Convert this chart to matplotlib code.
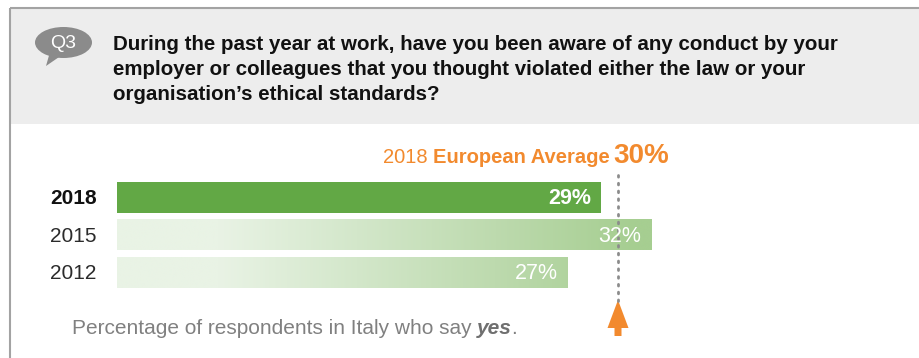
import matplotlib
matplotlib.use("Agg")
import matplotlib.pyplot as plt
from matplotlib.patches import Rectangle, Ellipse, Polygon
from matplotlib.colors import LinearSegmentedColormap
import numpy as np

# survey results, Italy
years = ["2018", "2015", "2012"]
values = [29, 32, 27]
value_labels = ["29%", "32%", "27%"]
euro_avg = 30
euro_avg_label = "30%"

question_lines = [
    "During the past year at work, have you been aware of any conduct by your",
    "employer or colleagues that you thought violated either the law or your",
    "organisation\u2019s ethical standards?",
]

W, H = 919, 358
PX_PER_PCT = 16.7      # bar length in pixels per percentage point
BAR_X0 = 117           # left edge of the bars
ROW_PITCH = 37.5       # vertical distance between bars
ROW0_Y = 197.5         # centre of the first bar
BAR_H = 31 / ROW_PITCH

GREEN = "#62a845"
ORANGE = "#f28a2e"
GREY_TXT = "#808080"
SANS = ["Liberation Sans", "DejaVu Sans"]

fig = plt.figure(figsize=(W / 100, H / 100), dpi=100)
fig.patch.set_facecolor("white")

# pixel-space overlay for the frame and the text
deco = fig.add_axes([0, 0, 1, 1])
deco.set_xlim(0, W)
deco.set_ylim(H, 0)
deco.axis("off")

# header panel + frame
deco.add_patch(Rectangle((10, 8), W - 10, 116, facecolor="#ededed", edgecolor="none"))
deco.plot([10, W], [8, 8], color="#a3a3a3", lw=1.5, solid_capstyle="butt")
deco.plot([10, 10], [8, H], color="#a3a3a3", lw=1.5, solid_capstyle="butt")

# Q3 speech bubble
deco.add_patch(Polygon([[50, 52], [62, 55], [46, 66]], closed=True, facecolor="#8b8b8b", edgecolor="none"))
deco.add_patch(Ellipse((63.5, 42.5), 57, 31, facecolor="#8b8b8b", edgecolor="none"))
deco.text(63, 43, "Q3", color="white", fontsize=14, family=SANS, ha="center", va="center")

for k, line in enumerate(question_lines):
    deco.text(113, 50 + 25 * k, line, fontsize=14.8, fontweight="bold", family=SANS,
              color="#111111", va="baseline", ha="left")

# bar chart axes, x in percent, y in row units
ax = fig.add_axes([BAR_X0 / W, 0, (W - BAR_X0) / W, 1])
ax.set_xlim(0, (W - BAR_X0) / PX_PER_PCT)
ax.set_ylim((H - ROW0_Y) / ROW_PITCH, -ROW0_Y / ROW_PITCH)
ax.axis("off")
ax.patch.set_alpha(0)

fade = LinearSegmentedColormap.from_list("fade", ["#e9f3e5", "#d3e7ca", "#bddaae", "#a6ce91"])
grad_x = np.linspace(0, 1, 400)
for i, (yr, v, lab) in enumerate(zip(years, values, value_labels)):
    if i == 0:
        ax.barh(i, v, height=BAR_H, color=GREEN, left=0)
        ax.text(v - 10 / PX_PER_PCT, i + 0.03, lab, color="white", fontsize=15.5, fontweight="bold",
                family=SANS, ha="right", va="center")
    else:
        bar = ax.barh(i, v, height=BAR_H, color="none", left=0)[0]
        xs = grad_x * v
        t = np.clip((xs - 6) / 25, 0, 1)
        img = ax.imshow(t[np.newaxis, :], cmap=fade, vmin=0, vmax=1, aspect="auto",
                        extent=(0, v, i + BAR_H / 2, i - BAR_H / 2), interpolation="bicubic")
        img.set_clip_path(bar)
        ax.text(v - 10 / PX_PER_PCT, i + 0.03, lab, color="white", fontsize=15.5,
                family=SANS, ha="right", va="center")

# year labels
for i, yr in enumerate(years):
    deco.text(50, ROW0_Y + i * ROW_PITCH + 1, yr, fontsize=15, family=SANS, va="center", ha="left",
              color="#111111" if i == 0 else "#2b2b2b", fontweight="bold" if i == 0 else "normal")

# European average marker: dotted guide + upward arrow
y_top = (175 - ROW0_Y) / ROW_PITCH
y_tip = (301 - ROW0_Y) / ROW_PITCH
ax.plot([euro_avg, euro_avg], [y_top, y_tip], color="#8c8c8c", lw=2, ls=(0, (0.6, 2.2)),
        dash_capstyle="round")

ax_px = BAR_X0 + euro_avg * PX_PER_PCT
deco.add_patch(Polygon([[ax_px, 300], [ax_px + 10.5, 328], [ax_px + 3.5, 328], [ax_px + 3.5, 336],
                        [ax_px - 3.5, 336], [ax_px - 3.5, 328], [ax_px - 10.5, 328]],
                       closed=True, facecolor=ORANGE, edgecolor="none"))

# headline for the average, built from pieces of different weights
fig.canvas.draw()
r = fig.canvas.get_renderer()
inv = deco.transData.inverted()


def put(x, y, s, **kw):
    t = deco.text(x, y, s, va="baseline", ha="left", **kw)
    bb = t.get_window_extent(renderer=r)
    return inv.transform((bb.x1, 0))[0]


x = put(383, 163, "2018 ", fontsize=14.5, family=SANS, color=ORANGE)
x = put(x, 163, "European Average ", fontsize=14.5, family=SANS, color=ORANGE, fontweight="bold")
put(x - 2, 163, euro_avg_label, fontsize=20, family=SANS, color=ORANGE, fontweight="bold")

x = put(72, 334, "Percentage of respondents in Italy who say ", fontsize=15, family=SANS, color=GREY_TXT)
x = put(x, 334, "yes", fontsize=15, family=SANS, color="#6f6f6f", fontweight="bold", fontstyle="italic")
put(x - 1, 334, ".", fontsize=15, family=SANS, color=GREY_TXT)

fig.savefig("out.png", dpi=100, facecolor="white")
